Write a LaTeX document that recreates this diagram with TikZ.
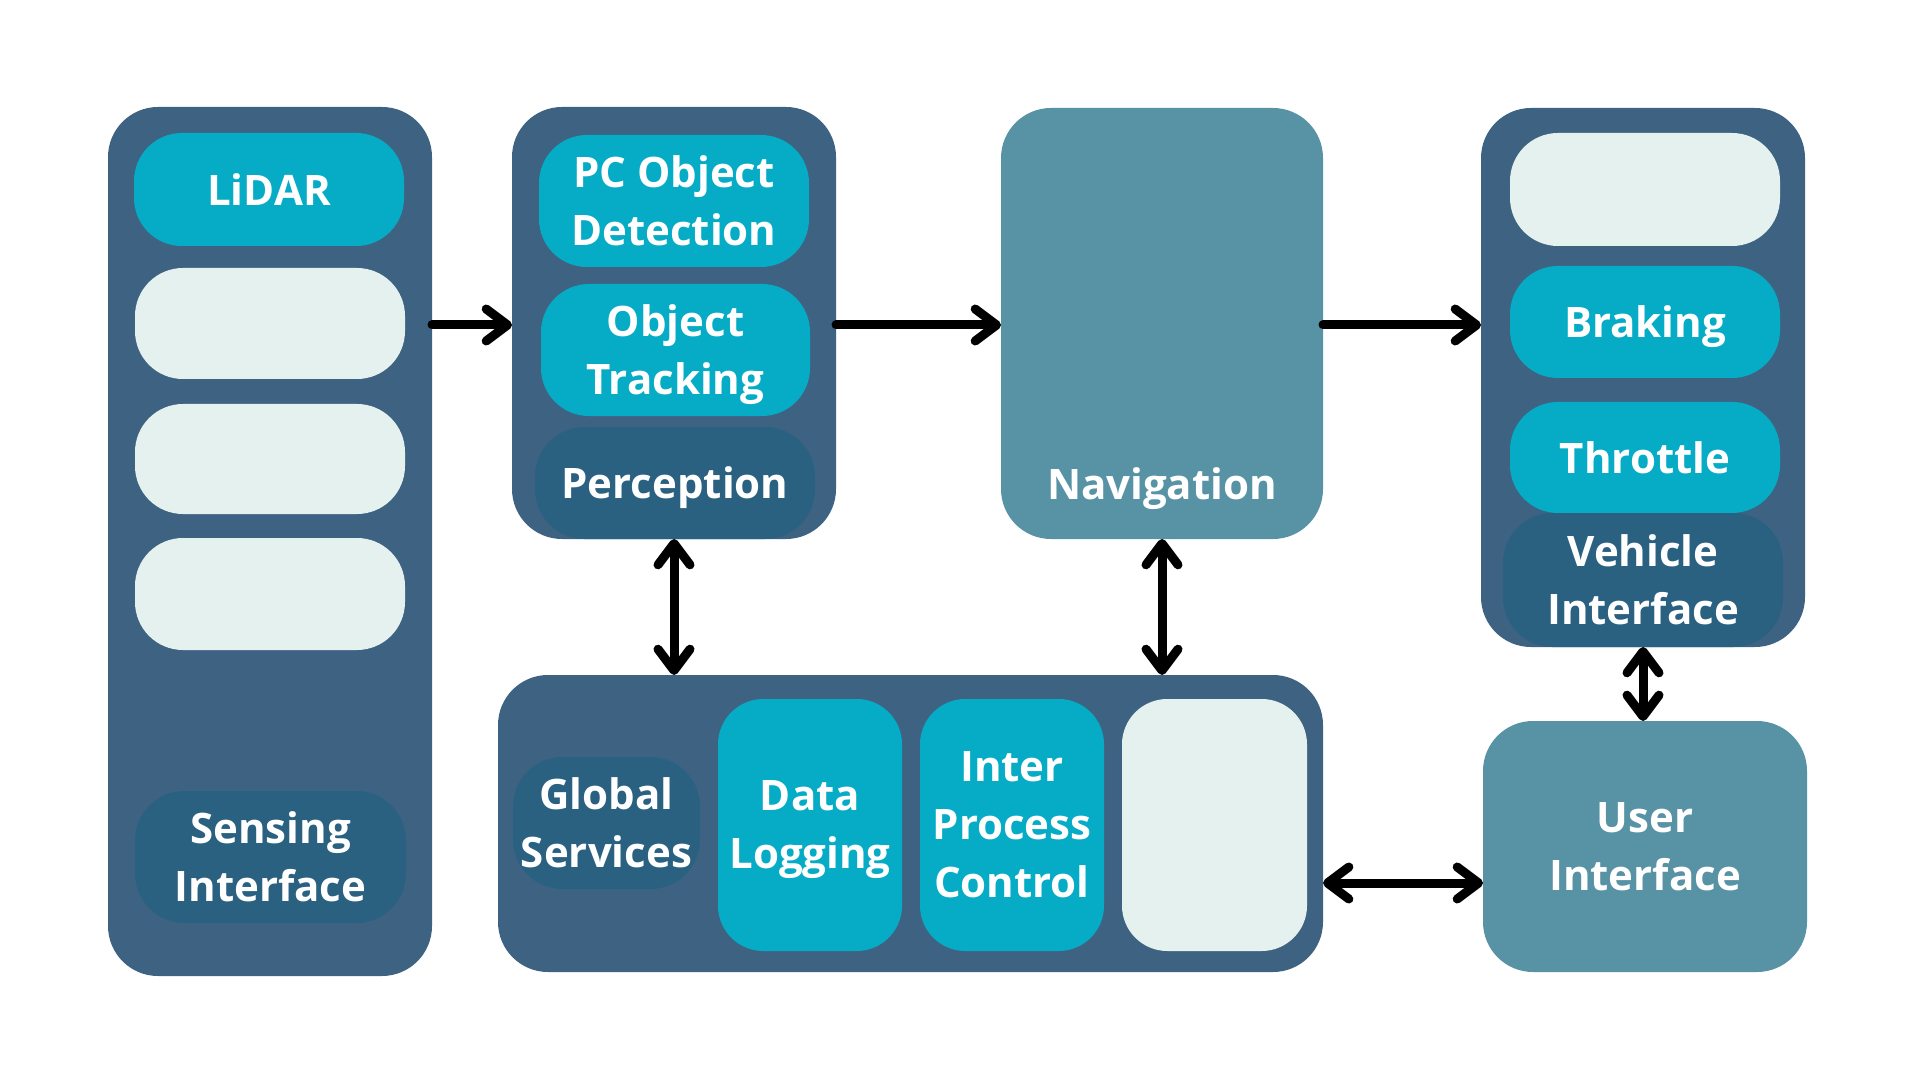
\documentclass[tikz,border=0pt]{standalone}
\usepackage{fontspec}
\setmainfont{Open Sans}
\usetikzlibrary{arrows.meta}
\definecolor{outerc}{HTML}{3E6382}
\definecolor{cyanc}{HTML}{06ACC6}
\definecolor{lightc}{HTML}{E5F1EE}
\definecolor{darkc}{HTML}{2A6181}
\definecolor{navc}{HTML}{5893A5}
\newcommand\lblfont{\bfseries\fontsize{31.5}{43.5}\selectfont}
% text line whose descenders should not move the vertical centring
\newcommand\nodepth[1]{\raisebox{0pt}[\height][0pt]{#1}}
% name, x1, y1, x2, y2, style, text
\newcommand\bx[7]{\node[#6, minimum width={(#4-#2)*0.75pt}, minimum height={(#5-#3)*0.75pt}] (#1) at ({(#2+#4)/2},{(#3+#5)/2}) {#7};}
\begin{document}
\begin{tikzpicture}[x=0.75pt,y=-0.75pt,
  every node/.style={inner sep=0pt, outer sep=0pt, draw=none},
  outerbox/.style={fill=outerc, rounded corners=37.5pt},
  navbox/.style={fill=navc, rounded corners=37.5pt, text=white, align=center, font=\lblfont},
  pill/.style={fill=cyanc, rounded corners=36pt, text=white, align=center, font=\lblfont},
  vpill/.style={fill=cyanc, rounded corners=34pt, text=white, align=center, font=\lblfont},
  blank/.style={fill=lightc, rounded corners=36pt},
  vblank/.style={fill=lightc, rounded corners=34pt},
  dpill/.style={fill=darkc, rounded corners=37pt, text=white, align=center, font=\lblfont},
  labeltext/.style={text=white, align=center, font=\lblfont},
  arr/.style={line width=6.75pt, line cap=round, -{Straight Barb[length=16pt,width=24pt,round]}},
  darr/.style={line width=6.75pt, line cap=round, {Straight Barb[length=16pt,width=24pt,round]}-{Straight Barb[length=16pt,width=24pt,round]}}]
\useasboundingbox[fill=white] (0,0) rectangle (1920,1080);

% outer containers
\bx{sensebox}{108}{107}{432}{976}{outerbox}{}
\bx{percbox}{512}{107}{836}{539}{outerbox}{}
\bx{navbox}{1001}{108}{1323}{539}{navbox}{}
\bx{vehbox}{1481}{108}{1805}{647}{outerbox}{}
\bx{busbox}{498}{675}{1323}{972}{outerbox}{}
\bx{uibox}{1483}{721}{1807}{972}{navbox}{User\\Interface}

% sensing column
\bx{lidar}{134}{133}{404}{246}{pill}{LiDAR}
\bx{sblank1}{135}{268}{405}{379}{blank}{}
\bx{sblank2}{135}{404}{405}{514}{blank}{}
\bx{sblank3}{135}{538}{405}{650}{blank}{}
\bx{sensing}{135}{791}{406}{923}{dpill}{Sensing\\Interface}

% perception column
\bx{pcod}{539}{135}{809}{267}{pill}{PC Object\\Detection}
\bx{objtr}{541}{284}{810}{416}{pill}{Object\\\nodepth{Tracking}}
\bx{perc}{535}{427}{815}{539}{dpill}{\nodepth{Perception}}

% navigation label
\node[labeltext] (navlabel) at (1162,484) {\nodepth{Navigation}};

% vehicle interface column
\bx{vblank}{1510}{133}{1780}{246}{blank}{}
\bx{braking}{1510}{266}{1780}{378}{pill}{\nodepth{Braking}}
\bx{throttle}{1510}{402}{1780}{513}{pill}{Throttle}
\bx{vehint}{1503}{513}{1783}{647}{dpill}{Vehicle\\Interface}

% bus row
\bx{global}{513}{757}{700}{889}{dpill}{Global\\Services}
\bx{datalog}{718}{699}{902}{951}{vpill}{Data\\\nodepth{Logging}}
\bx{ipc}{920}{699}{1104}{951}{vpill}{Inter\\Process\\Control}
\bx{bblank}{1122}{699}{1307}{951}{vblank}{}

% connector rows
\coordinate (rowA) at (0,325);
\coordinate (rowB) at (0,883);

\draw[arr] (sensebox.east |- rowA) -- (percbox.west |- rowA);
\draw[arr] (percbox.east |- rowA) -- (navbox.west |- rowA);
\draw[arr] (navbox.east |- rowA) -- (vehbox.west |- rowA);
\draw[darr] (percbox.south) -- (busbox.north -| percbox.south);
\draw[darr] (navbox.south) -- (busbox.north -| navbox.south);
\draw[darr] (vehbox.south) -- (uibox.north -| vehbox.south);
\draw[darr] (busbox.east |- rowB) -- (uibox.west |- rowB);
\end{tikzpicture}
\end{document}
